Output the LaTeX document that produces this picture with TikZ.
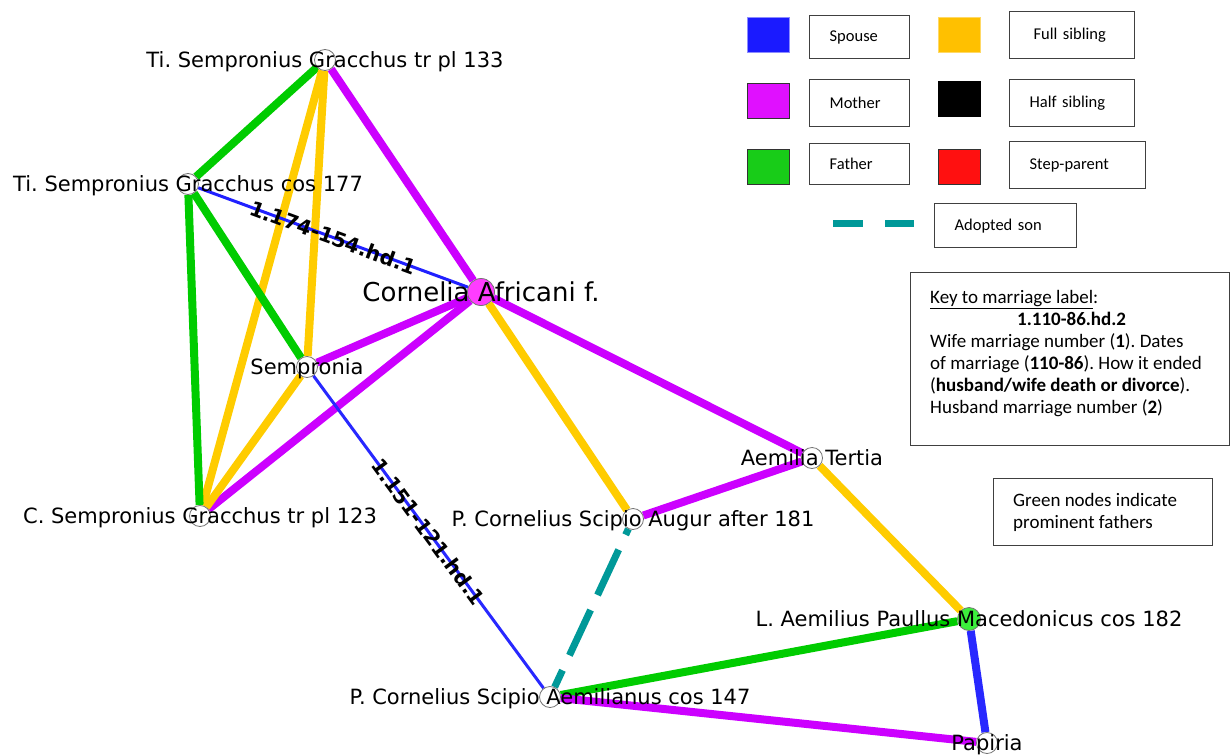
\documentclass[tikz,border=0pt]{standalone}
\usepackage{fontspec}
\setmainfont{DejaVu Sans}
\newfontfamily\keyfont{Carlito}
\definecolor{fathergreen}{HTML}{00CC00}
\definecolor{sibyellow}{HTML}{FFCC00}
\definecolor{motherpurple}{HTML}{CC00FF}
\definecolor{spouseblue}{HTML}{2828FF}
\definecolor{adoptteal}{HTML}{009999}
\definecolor{corneliafill}{HTML}{FF3CFF}
\definecolor{paullusfill}{HTML}{3CEE3C}
\definecolor{legblue}{HTML}{1A1AFF}
\definecolor{legyellow}{HTML}{FFC000}
\definecolor{legpurple}{HTML}{E010FF}
\definecolor{leggreen}{HTML}{18CC18}
\definecolor{legred}{HTML}{FF1010}
\pgfdeclarelayer{paper}
\pgfdeclarelayer{edges}
\pgfsetlayers{paper,edges,main}
\frenchspacing
\begin{document}
\begin{tikzpicture}[x=1pt,y=-1pt,
  person/.style={circle, draw=black!55, line width=0.8pt, fill=white, minimum size=21pt, inner sep=0pt},
  pname/.style={anchor=base, inner sep=0pt, font=\fontsize{21}{25}\selectfont, yshift=-7.5pt},
  rel/.style={line width=8pt},
  father/.style={rel, fathergreen},
  mother/.style={rel, motherpurple},
  fullsib/.style={rel, sibyellow},
  spouse/.style={line width=3pt, spouseblue},
  adopted/.style={rel, line width=7pt, adoptteal, dash pattern=on 50pt off 16.5pt, dash phase=43.5pt},
  elabel/.style={sloped, inner sep=0pt, text=black, font=\bfseries\fontsize{20.5}{24}\selectfont},
  legsq/.style={rectangle, anchor=north west, minimum width=42pt, minimum height=35pt, inner sep=0pt, line width=1.2pt},
  legbox/.style={rectangle, anchor=north west, draw=black!75, line width=1.3pt, inner xsep=20pt, inner ysep=0pt, align=left, font=\keyfont\fontsize{16.5}{20}\selectfont},
  keybox/.style={rectangle, anchor=north west, draw=black!75, line width=1.3pt, inner sep=0pt},
  keytext/.style={anchor=north west, inner sep=0pt, align=left, font=\keyfont\fontsize{19}{22}\selectfont}
]
\useasboundingbox (0,0) rectangle (1231,755);
\begin{pgfonlayer}{paper}
\fill[white] (0,0) rectangle (1231,755);
\end{pgfonlayer}

% people
\node[person] (t133) at (325,60) {};
\node[person] (t177) at (188,184) {};
\node[person, fill=corneliafill, minimum size=27pt] (cornelia) at (481,292) {};
\node[person] (sempronia) at (307,367) {};
\node[person] (c123) at (200,516) {};
\node[person] (augur) at (633,519) {};
\node[person] (tertia) at (812,458) {};
\node[person, fill=paullusfill, minimum size=23pt] (paullus) at (969,619) {};
\node[person] (aemilianus) at (550,697) {};
\node[person] (papiria) at (987,743) {};

% relations, drawn beneath the people
\begin{pgfonlayer}{edges}
\draw[father] (t133) -- (t177);
\draw[fullsib] (t133) -- (c123);
\draw[fullsib] (t133) -- (sempronia);
\draw[mother] (t133) -- (cornelia);
\draw[father] (t177) -- (c123);
\draw[father] (t177) -- (sempronia);
\draw[mother] (sempronia) -- (cornelia);
\draw[mother] (c123) -- (cornelia);
\draw[fullsib] (sempronia) -- (c123);
\draw[fullsib] (cornelia) -- (augur);
\draw[mother] (cornelia) -- (tertia);
\draw[mother] (augur) -- (tertia);
\draw[adopted] (augur) -- (aemilianus);
\draw[fullsib] (tertia) -- (paullus);
\draw[father] (paullus) -- (aemilianus);
\draw[rel, spouseblue] (paullus) -- (papiria);
\draw[mother] (aemilianus) -- (papiria);
\draw[spouse, spouseblue!80!blue] (t177) -- node[elabel] {1.174-154.hd.1} (cornelia);
\draw[spouse] (sempronia) -- node[elabel] {1.151-121.hd.1} (aemilianus);
\end{pgfonlayer}

% names
\node[pname] (t133-n) at (t133) {Ti. Sempronius Gracchus tr pl 133};
\node[pname] (t177-n) at (t177) {Ti. Sempronius Gracchus cos 177};
\node[pname, font=\fontsize{26}{30}\selectfont, yshift=-2pt] (cornelia-n) at (cornelia) {Cornelia Africani f.};
\node[pname] (sempronia-n) at (sempronia) {Sempronia};
\node[pname] (c123-n) at (c123) {C. Sempronius Gracchus tr pl 123};
\node[pname] (augur-n) at (augur) {P. Cornelius Scipio Augur after 181};
\node[pname] (tertia-n) at (tertia) {Aemilia Tertia};
\node[pname] (paullus-n) at (paullus) {L. Aemilius Paullus Macedonicus cos 182};
\node[pname] (aemilianus-n) at (aemilianus) {P. Cornelius Scipio Aemilianus cos 147};
\node[pname] (papiria-n) at (papiria) {Papiria};

% legend of relation colours
\node[legsq, fill=legblue, draw=legblue!50] (sq-spouse) at (747,17) {};
\node[legbox, text width=60pt, minimum height=43pt] (lb-spouse) at (809,15) {Spouse};
\node[legsq, fill=legyellow, draw=legyellow!60] (sq-full) at (938,17) {};
\node[legbox, inner xsep=24pt, text width=77pt, minimum height=47pt] (lb-full) at (1009,11) {Full sibling};
\node[legsq, fill=legpurple, draw=black!80] (sq-mother) at (747,83) {};
\node[legbox, text width=60pt, minimum height=47pt] (lb-mother) at (809,79) {Mother};
\node[legsq, fill=black, draw=black] (sq-half) at (938,81) {};
\node[legbox, text width=85pt, minimum height=47pt] (lb-half) at (1009,79) {Half sibling};
\node[legsq, fill=leggreen, draw=black!80] (sq-father) at (747,149) {};
\node[legbox, text width=60pt, minimum height=41pt] (lb-father) at (809,143) {Father};
\node[legsq, fill=legred, draw=black!80] (sq-step) at (938,149) {};
\node[legbox, text width=96pt, minimum height=47pt] (lb-step) at (1009,141) {Step-parent};
\coordinate (ad-a) at (833,223.5);
\coordinate (ad-b) at (914,223.5);
\draw[line width=7pt, adoptteal, dash pattern=on 30pt off 22pt] (ad-a) -- (ad-b);
\node[legbox, text width=102pt, minimum height=44pt] (lb-adopt) at (934,203) {Adopted son};

% key to the marriage labels
\node[keybox, minimum width=319pt, minimum height=173pt] (key) at (910,272) {};
\node[keytext] (key-t) at (930,290) {\underline{Key to marriage label}:\\
\hspace*{87pt}\textbf{1.110-86.hd.2}\\
Wife marriage number (\textbf{1}). Dates\\
of marriage (\textbf{110-86}). How it ended\\
(\textbf{husband/wife death or divorce}).\\
Husband marriage number (\textbf{2})};

\node[keybox, minimum width=219pt, minimum height=67pt] (green) at (993,478) {};
\node[keytext] (green-t) at (1013,493) {Green nodes indicate\\prominent fathers};
\end{tikzpicture}
\end{document}
